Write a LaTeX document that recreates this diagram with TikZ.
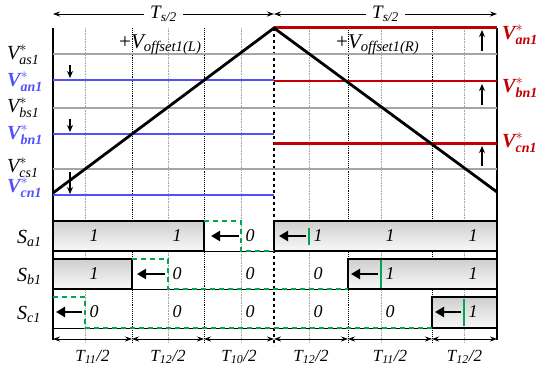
\documentclass[tikz,border=0pt]{standalone}
\usepackage{amsmath}
\usepackage{fontspec}
\setmainfont{Liberation Serif}
\usetikzlibrary{arrows.meta}

\definecolor{swRefL}{HTML}{5050FF}
\definecolor{swRefR}{HTML}{C00000}
\definecolor{swOrig}{HTML}{00A651}
\definecolor{swGrid}{HTML}{A5A5A5}

\newcommand{\vstar}[1]{$\textit{V}^{*}_{\textit{#1}}$}
\newcommand{\swlab}[1]{$\textit{S}_{\textit{#1}}$}
\newcommand{\tint}[1]{$\textit{T}_{\textit{#1}}\textit{/2}$}

\begin{document}
\begin{tikzpicture}[x=1pt, y=-1pt,
  gridline/.style={swGrid, line width=1.2pt},
  minor/.style={gray!70, densely dotted, line width=0.6pt},
  major/.style={black, densely dotted, line width=0.9pt},
  carrier/.style={black, line width=2.8pt},
  refL/.style={swRefL, line width=2.4pt},
  refR/.style={swRefR, line width=2.4pt},
  pulse/.style={draw, line width=1.2pt, top color=gray!38, bottom color=gray!5},
  orig/.style={swOrig, dash pattern=on 5pt off 4pt, line width=1.3pt},
  shiftarr/.style={-{Triangle[length=9pt,width=10pt]}, line width=2.4pt},
  movearr/.style={-{Stealth[length=7pt,width=6pt]}, line width=1.2pt},
  dimline/.style={{Stealth[length=7pt,width=5pt]}-{Stealth[length=7pt,width=5pt]}, line width=0.8pt},
  lab/.style={font=\fontsize{20}{22}\selectfont, inner sep=0pt},
  blab/.style={font=\fontsize{20}{22}\selectfont\bfseries, inner sep=0pt},
  bit/.style={font=\fontsize{18}{20}\selectfont\itshape, inner sep=0pt},
]
\useasboundingbox (0,0) rectangle (550,373);

% grid
\foreach \x in {85,168,241,309,381,464} \draw[minor] (\x,28) -- (\x,342);
\foreach \x in {132,204,348,432} \draw[major] (\x,28) -- (\x,342);
\draw[black, dashed, line width=1.4pt] (274,28) -- (274,346);
\draw[line width=1.2pt] (53,28) -- (53,340) (497,28) -- (497,340);
\foreach \y in {54,108,169} \draw[gridline] (53,\y) -- (497,\y);

% references and carrier
\foreach \y in {80,134,195} \draw[refL] (53,\y) -- (274,\y);
\foreach \y in {27.5,81,143.5} \draw[refR] (274,\y) -- (497,\y);
\draw[carrier] (53,193) -- (274,28) -- (497,192);

% reference labels
\node[lab, anchor=base west] (vas) at (7,59) {\vstar{as1}};
\node[blab, anchor=base west, swRefL] (van) at (7,86) {\vstar{an1}};
\node[lab, anchor=base west] (vbs) at (7,112) {\vstar{bs1}};
\node[blab, anchor=base west, swRefL] (vbn) at (7,139) {\vstar{bn1}};
\node[lab, anchor=base west] (vcs) at (7,172) {\vstar{cs1}};
\node[blab, anchor=base west, swRefL] (vcn) at (7,192) {\vstar{cn1}};
\node[blab, anchor=base west, swRefR] (vanR) at (502,39) {\vstar{an1}};
\node[blab, anchor=base west, swRefR] (vbnR) at (502,92) {\vstar{bn1}};
\node[blab, anchor=base west, swRefR] (vcnR) at (502,147) {\vstar{cn1}};

\node[lab, font=\fontsize{21}{23}\selectfont, anchor=base west] (offL) at (119,48) {+$\textit{V}_{\textit{offset1(L)}}$};
\node[lab, font=\fontsize{21}{23}\selectfont, anchor=base west] (offR) at (336,48) {+$\textit{V}_{\textit{offset1(R)}}$};

% offset arrows
\foreach \ys/\ye [count=\i] in {65/78, 119/132, 172/194} {
  \coordinate (dn\i a) at (70,\ys);
  \coordinate (dn\i b) at (70,\ye);
  \draw[movearr] (dn\i a) -- (dn\i b);
}
\foreach \ys/\ye [count=\i] in {51/30, 105/84, 166/146} {
  \coordinate (up\i a) at (482,\ys);
  \coordinate (up\i b) at (482,\ye);
  \draw[movearr] (up\i a) -- (up\i b);
}

% top half-period arrows
\coordinate (ts0) at (53,14);
\coordinate (ts1) at (274,14);
\coordinate (ts2) at (497,14);
\draw[dimline] (ts0) -- node[lab, font=\fontsize{19}{21}\selectfont, fill=white, inner xsep=6pt, inner ysep=2pt] (tsL) {$\textit{T}_{\textit{s/2}}$} (ts1);
\draw[dimline] (ts1) -- node[lab, font=\fontsize{19}{21}\selectfont, fill=white, inner xsep=6pt, inner ysep=2pt] (tsR) {$\textit{T}_{\textit{s/2}}$} (ts2);

% switching states
\foreach \y in {251,289,328} \draw[line width=1pt] (53,\y) -- (497,\y);
\draw[pulse] (53,221) rectangle (204,251);
\draw[pulse] (274,221) rectangle (497,251);
\draw[pulse] (53,259) rectangle (132,289);
\draw[pulse] (348,259) rectangle (497,289);
\draw[pulse] (432,297) rectangle (497,328);

\draw[orig] (204,221) -- (241,221) -- (241,251) -- (274,251);
\draw[orig] (132,259) -- (168,259) -- (168,289) -- (348,289);
\draw[orig] (53,297) -- (85,297) -- (85,328) -- (432,328);
\draw[swOrig, line width=1.6pt] (309,228) -- (309,245);
\draw[swOrig, line width=1.6pt] (381,260) -- (381,288);
\draw[swOrig, line width=1.6pt] (464,299) -- (464,326);

\foreach \xs/\xe/\y [count=\i] in {239/211/236, 306/279/236, 165/137/274,
                                 378/351/274, 82/56/312, 461/435/312} {
  \coordinate (sh\i a) at (\xs,\y);
  \coordinate (sh\i b) at (\xe,\y);
  \draw[shiftarr] (sh\i a) -- (sh\i b);
}

\foreach \x/\a/\b/\c in {94/1/1/0, 177/1/0/0, 250/0/0/0, 318/1/0/0, 390/1/1/0, 473/1/1/1} {
  \node[bit] (bA\x) at (\x,236) {\a};
  \node[bit] (bB\x) at (\x,274) {\b};
  \node[bit] (bC\x) at (\x,312) {\c};
}

\node[lab, anchor=base west] (sa) at (17,243) {\swlab{a1}};
\node[lab, anchor=base west] (sb) at (17,281) {\swlab{b1}};
\node[lab, anchor=base west] (sc) at (17,319) {\swlab{c1}};

% interval arrows
\foreach \x [count=\i from 0] in {53,132,204,274,348,432,497}
  \coordinate (t\i) at (\x,339);
\foreach \a/\b/\t in {0/1/11, 1/2/12, 2/3/10, 3/4/12, 4/5/11, 5/6/12}
  \draw[dimline] (t\a) -- node[lab, font=\fontsize{17}{19}\selectfont, yshift=-18pt] (lt\a) {\tint{\t}} (t\b);
\end{tikzpicture}
\end{document}
